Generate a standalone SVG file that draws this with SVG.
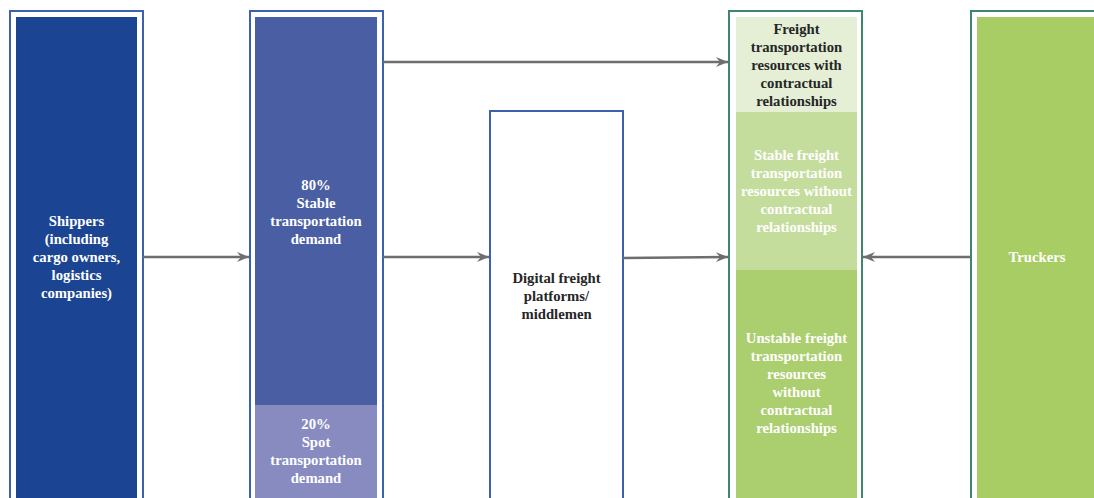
<svg xmlns="http://www.w3.org/2000/svg" width="1094" height="498" viewBox="0 0 1094 498">
<defs>
<style>
.ob{fill:none;stroke:#3c62ad;stroke-width:2}
.og{fill:none;stroke:#3e8768;stroke-width:2}
.t{font-family:"Liberation Serif","Times New Roman",serif;font-weight:bold;font-size:14.7px;text-anchor:middle;fill:#ffffff}
.d{fill:#262626}
.c{stroke:#6e6e72;stroke-width:2.5;fill:none}
</style>
<marker id="ah" viewBox="0 0 12 10" refX="12" refY="5" markerWidth="12" markerHeight="10" markerUnits="userSpaceOnUse" orient="auto">
<path d="M0,0 L12,5 L0,10 L4,5 Z" fill="#6e6e72"/>
</marker>
</defs>
<rect width="1094" height="498" fill="#ffffff"/>
<g id="shippers">
<rect class="ob" x="10" y="11" width="133" height="500"/>
<rect x="16" y="17" width="121" height="490" fill="#1b4592"/>
<text class="t" x="76.5"><tspan x="76.5" y="226">Shippers</tspan><tspan x="76.5" y="244">(including</tspan><tspan x="76.5" y="262">cargo owners,</tspan><tspan x="76.5" y="280">logistics</tspan><tspan x="76.5" y="298">companies)</tspan></text>
</g>
<g id="demand">
<rect class="ob" x="250" y="11" width="133" height="500"/>
<rect x="255" y="17" width="122" height="388" fill="#4a5fa3"/>
<rect x="255" y="405" width="122" height="102" fill="#878bbf"/>
<text class="t"><tspan x="316" y="189.5">80%</tspan><tspan x="316" y="207.5">Stable</tspan><tspan x="316" y="225.5">transportation</tspan><tspan x="316" y="243.5">demand</tspan></text>
<text class="t"><tspan x="316" y="429">20%</tspan><tspan x="316" y="447">Spot</tspan><tspan x="316" y="465">transportation</tspan><tspan x="316" y="483">demand</tspan></text>
</g>
<g id="platforms">
<rect class="ob" x="490" y="111" width="133" height="400" fill="#ffffff"/>
<text class="t d"><tspan x="556.5" y="283">Digital freight</tspan><tspan x="556.5" y="301">platforms/</tspan><tspan x="556.5" y="319">middlemen</tspan></text>
</g>
<g id="resources">
<rect class="og" x="729" y="11" width="133" height="500"/>
<rect x="736" y="17" width="121" height="95" fill="#e4efd5"/>
<rect x="736" y="112" width="121" height="158" fill="#c5dd9c"/>
<rect x="736" y="270" width="121" height="237" fill="#abce6f"/>
<text class="t d"><tspan x="796.5" y="34">Freight</tspan><tspan x="796.5" y="52">transportation</tspan><tspan x="796.5" y="70">resources with</tspan><tspan x="796.5" y="88">contractual</tspan><tspan x="796.5" y="106">relationships</tspan></text>
<text class="t"><tspan x="796.5" y="160">Stable freight</tspan><tspan x="796.5" y="178">transportation</tspan><tspan x="796.5" y="196">resources without</tspan><tspan x="796.5" y="214">contractual</tspan><tspan x="796.5" y="232">relationships</tspan></text>
<text class="t"><tspan x="796.5" y="343">Unstable freight</tspan><tspan x="796.5" y="361">transportation</tspan><tspan x="796.5" y="379">resources</tspan><tspan x="796.5" y="397">without</tspan><tspan x="796.5" y="415">contractual</tspan><tspan x="796.5" y="433">relationships</tspan></text>
</g>
<g id="truckers">
<rect class="og" x="971" y="11" width="140" height="500"/>
<rect x="977" y="17" width="130" height="490" fill="#a8cd64"/>
<text class="t"><tspan x="1037" y="262">Truckers</tspan></text>
</g>
<g id="connectors">
<line class="c" x1="143" y1="257" x2="249" y2="257" marker-end="url(#ah)"/>
<line class="c" x1="383" y1="62" x2="728" y2="62" marker-end="url(#ah)"/>
<line class="c" x1="383" y1="257" x2="489" y2="257" marker-end="url(#ah)"/>
<line class="c" x1="623" y1="258" x2="728" y2="257" marker-end="url(#ah)"/>
<line class="c" x1="970" y1="257" x2="863" y2="257" marker-end="url(#ah)"/>
</g>
</svg>
